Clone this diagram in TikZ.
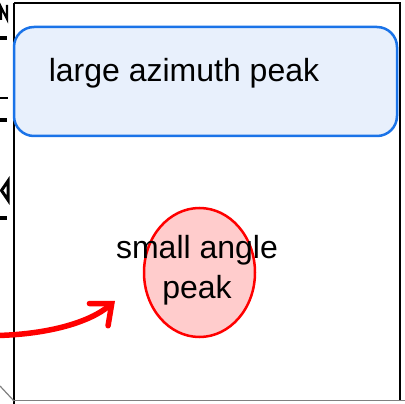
\documentclass[tikz,border=0pt]{standalone}
\usepackage{fontspec}
\setmainfont{Liberation Sans}
\usetikzlibrary{shapes.geometric,arrows.meta}
\definecolor{boxblue}{HTML}{1A73E8}
\definecolor{boxfill}{HTML}{E8F0FC}
\definecolor{ellfill}{HTML}{FFCCCC}
\tikzset{
  bluebox/.style={draw=boxblue, fill=boxfill, line width=2.5pt, rounded corners=20pt, rectangle, inner sep=0pt},
  redell/.style={draw=red, fill=ellfill, line width=2.5pt, ellipse, inner sep=0pt},
  lbltext/.style={font=\fontsize{32}{40}\selectfont, inner sep=0pt, align=center},
  framel/.style={line width=2.5pt, black},
  tickl/.style={line width=4pt, black},
  redarrow/.style={red, line width=5.5pt, line cap=round, -{Straight Barb[length=17pt,width=29pt,line cap=round]}}
}
\begin{document}
\begin{tikzpicture}[x=1pt,y=-1pt]
\useasboundingbox (0,0) rectangle (405,404);
% frame
\draw[framel] (14,3) -- (401,3);
\draw[framel] (14,3) -- (14,404);
\draw[framel] (400,3) -- (400,401);
\draw[gray, line width=1.5pt] (14,400.5) -- (405,400.5);
\draw[gray, line width=1.2pt] (0,386) -- (14,401);
% left clipped marks
\draw[black, line width=2.2pt] (1,20) -- (1,7) -- (7,19) -- (7,5);
\draw[tickl] (0,38) -- (7,38);
\draw[black, line width=2pt] (0,98) -- (8,98);
\draw[tickl] (0,120) -- (7,120);
\draw[black, line width=3pt] (8,181) -- (1.5,190.5) -- (8,200) -- cycle;
\draw[tickl] (0,218) -- (7,218);
% blue box
\node[bluebox, minimum width=383pt, minimum height=109pt] (box) at (205.5,81.5) {};
\node[lbltext] (boxlbl) at (184,73) {large azimuth peak};
% red ellipse
\node[redell, minimum width=111pt, minimum height=129pt] (ell) at (199.5,272.5) {};
\node[lbltext] (elllbl) at (197,270) {small angle\\peak};
% arrow
\coordinate (astart) at (-2,335.5);
\coordinate (atip) at (115,301);
\draw[redarrow] (astart) .. controls (50,334) and (90,322) .. (atip);
\end{tikzpicture}
\end{document}
